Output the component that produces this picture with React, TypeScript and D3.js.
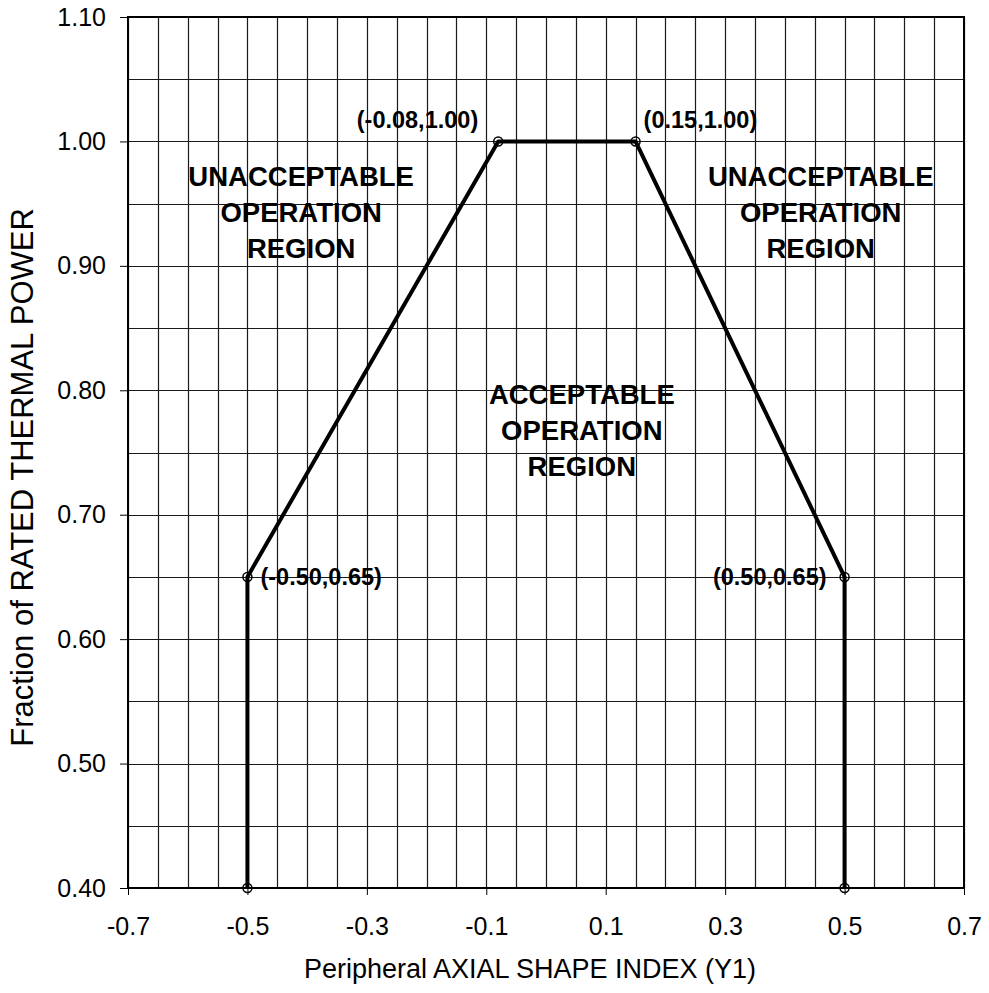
import React, { useEffect, useRef } from "react";
import * as d3 from "d3";

// limit line vertices (Peripheral ASI, fraction of rated power)
const limitX = [-0.5, -0.5, -0.08, 0.15, 0.5, 0.5];
const limitY = [0.4, 0.65, 1.0, 1.0, 0.65, 0.4];

// labelled corner points: index into limit arrays + text + side
const cornerIdx = [1, 2, 3, 4];
const cornerText = ["(-0.50,0.65)", "(-0.08,1.00)", "(0.15,1.00)", "(0.50,0.65)"];
const cornerSide = ["right", "left", "right", "left"];

const xTicks = [-0.7, -0.5, -0.3, -0.1, 0.1, 0.3, 0.5, 0.7];
const yTicks = [0.4, 0.5, 0.6, 0.7, 0.8, 0.9, 1.0, 1.1];

// region annotations, anchored at data coords (middle line)
const regionX = [-0.41, 0.46, 0.06];
const regionY = [0.935, 0.935, 0.76];
const regionLines = [
  ["UNACCEPTABLE", "OPERATION", "REGION"],
  ["UNACCEPTABLE", "OPERATION", "REGION"],
  ["ACCEPTABLE", "OPERATION", "REGION"]
];

const FONT = "'Liberation Sans', Arial, Helvetica, sans-serif";

function drawChart(container: SVGSVGElement) {
  var width = 989,
    height = 993,
    margin = { top: 17, right: 25, bottom: 105, left: 128 };

  var svg = d3.select(container);
  svg.selectAll("*").remove();
  svg.attr("width", width).attr("height", height);

  svg.append("rect").attr("width", width).attr("height", height).style("fill", "#fff");

  var x = d3.scaleLinear().domain([-0.7, 0.7]).range([margin.left, width - margin.right]);
  var y = d3.scaleLinear().domain([0.4, 1.1]).range([height - margin.bottom, margin.top]);

  var gridColor = "#1a1a1a";

  // grid every 0.05
  var xGrid = d3.range(0, 29).map(function(i) { return -0.7 + i * 0.05; });
  var yGrid = d3.range(0, 15).map(function(i) { return 0.4 + i * 0.05; });

  svg.append("g")
    .selectAll("line")
    .data(xGrid)
    .join("line")
    .attr("x1", function(d) { return Math.round(x(d)) + 0.5; })
    .attr("x2", function(d) { return Math.round(x(d)) + 0.5; })
    .attr("y1", y(0.4))
    .attr("y2", y(1.1))
    .style("stroke", gridColor)
    .style("stroke-width", "1.2px");

  svg.append("g")
    .selectAll("line")
    .data(yGrid)
    .join("line")
    .attr("y1", function(d) { return Math.round(y(d)) + 0.5; })
    .attr("y2", function(d) { return Math.round(y(d)) + 0.5; })
    .attr("x1", x(-0.7))
    .attr("x2", x(0.7))
    .style("stroke", gridColor)
    .style("stroke-width", "1.2px");

  // plot border
  svg.append("rect")
    .attr("x", x(-0.7))
    .attr("y", y(1.1))
    .attr("width", x(0.7) - x(-0.7))
    .attr("height", y(0.4) - y(1.1))
    .style("fill", "none")
    .style("stroke", "#000")
    .style("stroke-width", "2px");

  var fmt1 = d3.format(".1f"), fmt2 = d3.format(".2f");

  // x axis
  var xAxis = d3.axisBottom(x)
    .tickValues(xTicks)
    .tickSizeInner(7)
    .tickSizeOuter(0)
    .tickPadding(22)
    .tickFormat(function(d) { return fmt1(+d).replace("\u2212", "-"); });

  var gx = svg.append("g")
    .attr("transform", "translate(0," + y(0.4) + ")")
    .call(xAxis);
  gx.select("path").remove();
  gx.selectAll(".tick line").style("stroke", "#000");
  gx.selectAll(".tick text")
    .style("fill", "#000")
    .style("font-family", FONT)
    .style("font-size", "25px");

  // y axis
  var yAxis = d3.axisLeft(y)
    .tickValues(yTicks)
    .tickSizeInner(8)
    .tickSizeOuter(0)
    .tickPadding(14)
    .tickFormat(function(d) { return fmt2(+d); });

  var gy = svg.append("g")
    .attr("transform", "translate(" + x(-0.7) + ",0)")
    .call(yAxis);
  gy.select("path").remove();
  gy.selectAll(".tick line").style("stroke", "#000");
  gy.selectAll(".tick text")
    .style("fill", "#000")
    .style("font-family", FONT)
    .style("font-size", "25px");

  // axis titles
  svg.append("text")
    .attr("x", x(0) - 16)
    .attr("y", 978)
    .attr("text-anchor", "middle")
    .style("font-family", FONT)
    .style("font-size", "27px")
    .text("Peripheral AXIAL SHAPE INDEX (Y1)");

  svg.append("text")
    .attr("transform", "translate(33," + y(0.73) + ") rotate(-90)")
    .attr("text-anchor", "middle")
    .style("font-family", FONT)
    .style("font-size", "31px")
    .text("Fraction of RATED THERMAL POWER");

  // limit line
  var pts = limitX.map(function(v, i) { return [x(v), y(limitY[i])] as [number, number]; });
  svg.append("path")
    .attr("d", d3.line()(pts))
    .style("fill", "none")
    .style("stroke", "#000")
    .style("stroke-width", "4px")
    .style("stroke-linejoin", "round");

  svg.append("g")
    .selectAll("circle")
    .data(pts)
    .join("circle")
    .attr("cx", function(d) { return d[0]; })
    .attr("cy", function(d) { return d[1]; })
    .attr("r", 4.5)
    .style("fill", "none")
    .style("stroke", "#000")
    .style("stroke-width", "1.5px");

  // corner labels
  cornerIdx.forEach(function(idx, i) {
    var px = x(limitX[idx]), py = y(limitY[idx]);
    var onTop = limitY[idx] >= 1.0;
    var right = cornerSide[i] === "right";
    svg.append("text")
      .attr("x", right ? px + (onTop ? 8 : 13) : px - (onTop ? 20 : 18))
      .attr("y", onTop ? py - 13 : py + 8)
      .attr("text-anchor", right ? "start" : "end")
      .style("font-family", FONT)
      .style("font-weight", "bold")
      .style("font-size", "23.5px")
      .text(cornerText[i]);
  });

  // region annotations
  regionLines.forEach(function(lines, i) {
    var t = svg.append("text")
      .attr("text-anchor", "middle")
      .style("font-family", FONT)
      .style("font-weight", "bold")
      .style("font-size", "27.5px");
    lines.forEach(function(s, j) {
      t.append("tspan")
        .attr("x", x(regionX[i]))
        .attr("y", y(regionY[i]) + (j - 1) * 36)
        .text(s);
    });
  });
}

export default function App() {
  const ref = useRef<SVGSVGElement>(null);
  useEffect(() => {
    if (ref.current) drawChart(ref.current);
  }, []);
  return <svg ref={ref} style={{ position: "absolute", left: 0, top: 0, display: "block" }} />;
}
